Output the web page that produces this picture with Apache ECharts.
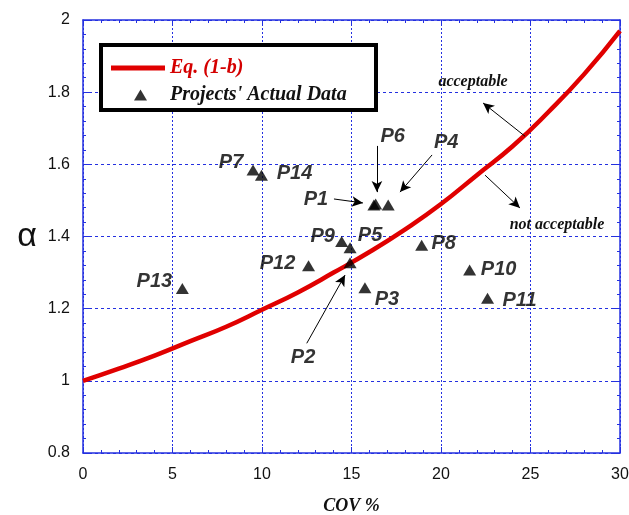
<!DOCTYPE html>
<html>
<head>
<meta charset="utf-8">
<script src="https://cdn.jsdelivr.net/npm/echarts@6/dist/echarts.min.js"></script>
<style>
  html, body { margin: 0; padding: 0; background: #fff; }
  #main { width: 629px; height: 515px; }
</style>
</head>
<body>
<div id="main"></div>
<script>
// Eq. (1-b) curve
var curveCov   = [0, 2, 4, 6, 8, 10, 12, 14, 16, 18, 20, 22, 24, 26, 28, 30];
var curveAlpha = [1.0, 1.034, 1.07, 1.11, 1.15, 1.197, 1.245, 1.30, 1.357, 1.42, 1.49, 1.57, 1.65, 1.745, 1.85, 1.97];

// projects' actual data
var projNames = ['P1', 'P2', 'P3', 'P4', 'P5', 'P6', 'P7', 'P8', 'P9', 'P10', 'P11', 'P12', 'P13', 'P14'];
var projCov   = [16.25, 14.92, 15.75, 17.05, 14.92, 16.35, 9.5, 18.92, 14.45, 21.6, 22.6, 12.6, 5.55, 9.97];
var projAlpha = [1.487, 1.327, 1.258, 1.487, 1.369, 1.49, 1.584, 1.376, 1.386, 1.307, 1.229, 1.319, 1.256, 1.570];

var xTicks = [0, 5, 10, 15, 20, 25, 30];
var yTicks = [0.8, 1, 1.2, 1.4, 1.6, 1.8, 2];

// where each label sits relative to its triangle (px)
var labelShift = {
    P1: [-58, -6], P2: [-47, 95], P3: [22, 12], P4: [58, -63], P5: [20, -12],
    P6: [17, -68], P7: [-22, -8], P8: [22, -2], P9: [-19, -5], P10: [29, -1],
    P11: [32, 2], P12: [-31, -2], P13: [-28, -7], P14: [33, -2]
};

var blue = '#2430e0';
var serif = '"Liberation Serif", "DejaVu Serif", serif';
var sans = '"Liberation Sans", Arial, sans-serif';

var curveData = [];
for (var i = 0; i < curveCov.length; i++) {
    curveData.push([curveCov[i], curveAlpha[i]]);
}
var projData = [];
for (var j = 0; j < projNames.length; j++) {
    projData.push({
        name: projNames[j],
        value: [projCov[j], projAlpha[j]],
        label: { offset: labelShift[projNames[j]] }
    });
}

function baseX(pos, showLabel) {
    return {
        type: 'value', position: pos, min: xTicks[0], max: xTicks[xTicks.length - 1], interval: 5,
        axisLine: { show: true, onZero: false, lineStyle: { color: blue, width: 1.5 } },
        axisTick: { show: true, inside: true, length: 6, lineStyle: { color: blue } },
        minorTick: { show: true, splitNumber: 5, length: 3, lineStyle: { color: blue } },
        splitLine: { show: showLabel, lineStyle: { color: blue, type: [2, 2], width: 1 } },
        axisLabel: { show: showLabel, color: '#111', fontFamily: sans, fontSize: 16, margin: 14 }
    };
}
function baseY(pos, showLabel) {
    return {
        type: 'value', position: pos, min: yTicks[0], max: yTicks[yTicks.length - 1], interval: 0.2,
        axisLine: { show: true, onZero: false, lineStyle: { color: blue, width: 1.5 } },
        axisTick: { show: true, inside: true, length: 6, lineStyle: { color: blue } },
        minorTick: { show: true, splitNumber: 5, length: 3, lineStyle: { color: blue } },
        splitLine: { show: showLabel, lineStyle: { color: blue, type: [3, 3], width: 1 } },
        axisLabel: { show: showLabel, color: '#111', fontFamily: sans, fontSize: 16, margin: 13 }
    };
}

var xBottom = baseX('bottom', true);
xBottom.name = 'COV %';
xBottom.nameLocation = 'middle';
xBottom.nameGap = 44;
xBottom.nameTextStyle = { fontFamily: serif, fontStyle: 'italic', fontWeight: 'bold', fontSize: 18, color: '#111' };
var yLeft = baseY('left', true);
yLeft.name = 'α';
yLeft.nameLocation = 'middle';
yLeft.nameRotate = 0;
yLeft.nameGap = 46;
yLeft.nameTextStyle = { fontFamily: sans, fontSize: 34, color: '#111' };

var arrowLine = { color: '#000', width: 1, type: 'solid' };
var noteText = {
    show: true, position: 'inside', formatter: '{b}',
    fontFamily: serif, fontStyle: 'italic', fontWeight: 'bold', fontSize: 16, color: '#111'
};

var option = {
    animation: false,
    backgroundColor: '#fff',
    grid: { left: 83, right: 9, top: 20, bottom: 62, outerBoundsMode: 'none' },
    xAxis: [xBottom, baseX('top', false)],
    yAxis: [yLeft, baseY('right', false)],
    graphic: [{
        type: 'rect', z: 3,
        shape: { x: 101, y: 45, width: 275, height: 65 },
        style: { fill: '#fff', stroke: '#000', lineWidth: 4 }
    }],
    legend: [{
        data: [{ name: 'Eq. (1-b)', textStyle: { color: '#d40000' } }],
        left: 106, top: 53, z: 5,
        itemWidth: 54, itemHeight: 5, icon: 'rect',
        textStyle: { fontFamily: serif, fontStyle: 'italic', fontWeight: 'bold', fontSize: 20 }
    }, {
        data: [{ name: "Projects' Actual Data", textStyle: { color: '#111' } }],
        left: 129, top: 80, z: 5,
        itemWidth: 13, itemHeight: 11, icon: 'triangle',
        textStyle: { fontFamily: serif, fontStyle: 'italic', fontWeight: 'bold', fontSize: 20, padding: [0, 0, 0, 18] }
    }],
    series: [{
        name: 'Eq. (1-b)',
        type: 'line',
        data: curveData,
        smooth: true,
        showSymbol: false,
        lineStyle: { color: '#e00000', width: 4.5 },
        itemStyle: { color: '#e00000' },
        z: 3
    }, {
        name: "Projects' Actual Data",
        type: 'scatter',
        data: projData,
        symbol: 'triangle',
        symbolSize: [13, 11],
        itemStyle: { color: '#000' },
        label: {
            show: true, position: 'inside', formatter: '{b}',
            fontFamily: sans, fontStyle: 'italic', fontWeight: 'bold', fontSize: 20, color: '#000',
            textBorderWidth: 0, textBorderColor: 'transparent'
        },
        z: 4
    }, {
        // arrows and region notes
        name: 'notes',
        type: 'scatter',
        data: [],
        markLine: {
            silent: true,
            symbol: ['none', 'arrow'],
            symbolSize: [8, 11],
            lineStyle: arrowLine,
            label: { show: false },
            data: [
                [{ coord: [14.02, 1.504] }, { coord: [15.64, 1.493] }],
                [{ coord: [16.42, 1.651] }, { coord: [16.42, 1.523] }],
                [{ coord: [19.50, 1.626] }, { coord: [17.71, 1.523] }],
                [{ coord: [12.50, 1.104] }, { coord: [14.64, 1.293] }],
                [{ coord: [24.69, 1.678] }, { coord: [22.35, 1.770] }],
                [{ coord: [22.46, 1.570] }, { coord: [24.41, 1.479] }]
            ]
        },
        markPoint: {
            silent: true,
            symbol: 'circle',
            symbolSize: 1,
            itemStyle: { color: 'rgba(0,0,0,0)' },
            label: noteText,
            data: [
                { name: 'acceptable', coord: [21.79, 1.828] },
                { name: 'not acceptable', coord: [26.48, 1.432] }
            ]
        }
    }]
};

var myChart = echarts.init(document.getElementById('main'));
myChart.setOption(option);
</script>
</body>
</html>
